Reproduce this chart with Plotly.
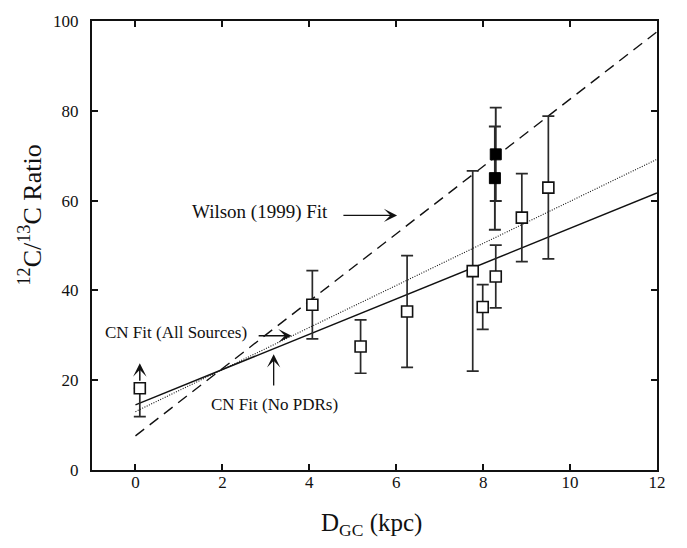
import plotly.graph_objects as go

# ---- data ----
open_x = [0.10, 4.07, 5.18, 6.25, 7.76, 7.99, 8.29, 8.89, 9.50]
open_y = [18.2, 36.8, 27.5, 35.3, 44.3, 36.3, 43.1, 56.2, 62.9]
open_err_plus = [0.0, 7.6, 5.95, 12.45, 22.3, 5.0, 7.0, 9.8, 15.9]
open_err_minus = [6.3, 7.6, 5.95, 12.45, 22.3, 5.0, 7.0, 9.8, 15.9]

filled_x = [8.29, 8.27]
filled_y = [70.3, 65.0]
filled_err = [10.4, 11.5]

# lower-limit arrow on the first point (from value up to tip)
limit_x = [0.10]
limit_from = [18.2]
limit_to = [23.8]

fit_x = [0, 12]
wilson_y = [7.6, 97.6]
cn_all_y = [13.0, 69.2]
cn_nopdr_y = [14.5, 61.7]

x_ticks = [0, 2, 4, 6, 8, 10, 12]
y_ticks = [0, 20, 40, 60, 80, 100]

FONT = "Liberation Serif"
INK = "#111111"
ERR = "#2a2a2a"

fig = go.Figure()

fig.add_trace(go.Scatter(x=fit_x, y=wilson_y, mode="lines",
                         line=dict(color=INK, width=1.4, dash="11px,7px"),
                         hoverinfo="skip", showlegend=False))
fig.add_trace(go.Scatter(x=fit_x, y=cn_all_y, mode="lines",
                         line=dict(color=INK, width=1.1, dash="1px,1.5px"),
                         hoverinfo="skip", showlegend=False))
fig.add_trace(go.Scatter(x=fit_x, y=cn_nopdr_y, mode="lines",
                         line=dict(color=INK, width=1.5),
                         hoverinfo="skip", showlegend=False))

fig.add_trace(go.Scatter(
    x=open_x, y=open_y, mode="markers",
    marker=dict(symbol="square", size=11, color="white",
                line=dict(color=INK, width=1.6)),
    error_y=dict(type="data", symmetric=False, array=open_err_plus,
                 arrayminus=open_err_minus, color=ERR, thickness=1.7, width=6),
    showlegend=False))

fig.add_trace(go.Scatter(
    x=filled_x, y=filled_y, mode="markers",
    marker=dict(symbol="square", size=11, color="black",
                line=dict(color="black", width=1)),
    error_y=dict(type="data", array=filled_err, color=ERR, thickness=1.9, width=6),
    showlegend=False))

annotations = []
# lower-limit arrow
for lx, lf, lt in zip(limit_x, limit_from, limit_to):
    annotations.append(dict(x=lx, y=lt, ax=lx, ay=lf, xref="x", yref="y",
                            axref="x", ayref="y", text="", showarrow=True,
                            arrowhead=3, arrowsize=1.5, arrowwidth=1.5,
                            arrowcolor=INK, startstandoff=6))

# labels with arrows
labels = [
    ("Wilson (1999) Fit", 2.86, 57.4, 19, (4.75, 56.7), (6.02, 56.7)),
    ("CN Fit (All Sources)", 0.93, 30.6, 17, (2.80, 29.9), (3.59, 29.9)),
    ("CN Fit (No PDRs)", 3.20, 14.7, 17, (3.18, 18.5), (3.18, 25.8)),
]
for txt, tx, ty, fs, tail, head in labels:
    annotations.append(dict(x=tx, y=ty, xref="x", yref="y", text=txt,
                            showarrow=False, font=dict(family=FONT, size=fs, color=INK),
                            xanchor="center", yanchor="middle"))
    annotations.append(dict(x=head[0], y=head[1], ax=tail[0], ay=tail[1],
                            xref="x", yref="y", axref="x", ayref="y", text="",
                            showarrow=True, arrowhead=3, arrowsize=1.7,
                            arrowwidth=1.3, arrowcolor=INK))

# axis titles
annotations.append(dict(x=-0.108, y=0.569, xref="paper", yref="paper",
                        text="<sup>12</sup>C/<sup>13</sup>C Ratio", textangle=-90,
                        showarrow=False, font=dict(family=FONT, size=26, color=INK),
                        xanchor="center", yanchor="middle"))
annotations.append(dict(x=0.494, y=-0.122, xref="paper", yref="paper",
                        text="D<sub>GC</sub> (kpc)", showarrow=False,
                        font=dict(family=FONT, size=25, color=INK),
                        xanchor="center", yanchor="middle"))

axis_common = dict(showgrid=False, zeroline=False, showline=True, linecolor=INK,
                   linewidth=2, mirror="ticks", ticks="inside", ticklen=6,
                   tickwidth=1.5, tickcolor=INK,
                   tickfont=dict(family=FONT, size=17, color=INK))

fig.update_layout(
    width=687, height=548,
    margin=dict(l=92, r=30, t=15, b=78),
    paper_bgcolor="white", plot_bgcolor="white",
    font=dict(family=FONT, color=INK),
    xaxis=dict(range=[-1, 12], tickvals=x_ticks, ticklabelstandoff=-4, **axis_common),
    yaxis=dict(range=[0, 100], tickvals=y_ticks, ticklabelstandoff=8, **axis_common),
    annotations=annotations,
    showlegend=False,
)

fig.write_html("out.html")
